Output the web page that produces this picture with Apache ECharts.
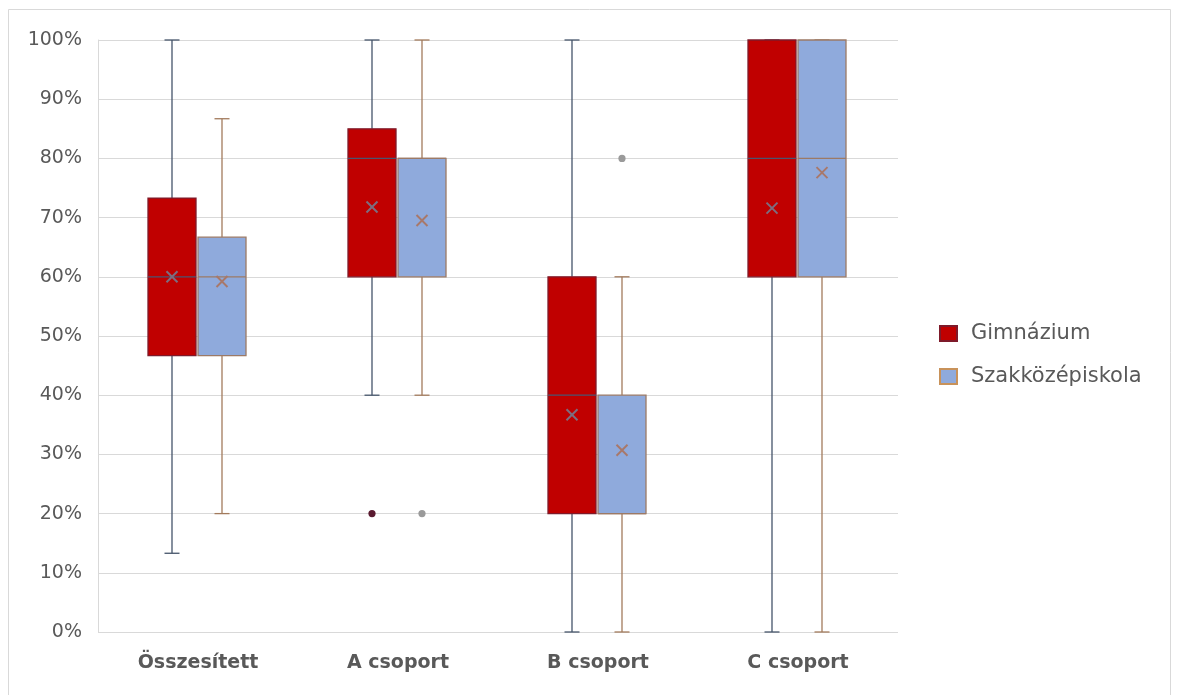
<!DOCTYPE html>
<html>
<head>
<meta charset="utf-8">
<script src="https://cdn.jsdelivr.net/npm/echarts@6/dist/echarts.min.js"></script>
<style>html,body{margin:0;padding:0;background:#fff}#c{width:1177px;height:695px}</style>
</head>
<body>
<div id="c"></div>
<script>
const categories = ['Összesített', 'A csoport', 'B csoport', 'C csoport'];
const seriesNames = ['Gimnázium', 'Szakközépiskola'];
// values in fractions (0..1)
const gimMin    = [0.133, 0.40, 0.00, 0.00];
const gimQ1     = [0.467, 0.60, 0.20, 0.60];
const gimMedian = [0.600, 0.80, 0.40, 0.80];
const gimQ3     = [0.733, 0.85, 0.60, 1.00];
const gimMax    = [1.000, 1.00, 1.00, 1.00];
const gimMean   = [0.600, 0.718, 0.367, 0.716];
const szakMin    = [0.200, 0.40, 0.00, 0.00];
const szakQ1     = [0.467, 0.60, 0.20, 0.60];
const szakMedian = [0.600, 0.80, 0.20, 0.80];
const szakQ3     = [0.667, 0.80, 0.40, 1.00];
const szakMax    = [0.867, 1.00, 0.60, 1.00];
const szakMean   = [0.592, 0.695, 0.307, 0.776];
// outliers: [categoryIndex, value]
const gimOutliers  = [[1, 0.20]];
const szakOutliers = [[1, 0.20], [2, 0.80]];
const yTicks = [0, 0.1, 0.2, 0.3, 0.4, 0.5, 0.6, 0.7, 0.8, 0.9, 1.0];

const FONT = "'DejaVu Sans', sans-serif";

function boxData(mins, q1, med, q3, maxs, means) {
  return categories.map((c, i) => [i, mins[i], q1[i], med[i], q3[i], maxs[i], means[i]]);
}

function makeBoxRender(offsetFrac, widthFrac, st) {
  return function (params, api) {
    const idx = api.value(0);
    const band = api.size([1, 0])[0];
    const cx = api.coord([idx, 0])[0] + band * offsetFrac;
    const w = band * widthFrac;
    const y = (k) => api.coord([idx, api.value(k)])[1];
    const yMin = y(1), yQ1 = y(2), yMed = y(3), yQ3 = y(4), yMax = y(5), yMean = y(6);
    const cap = 7.5, m = 5.5;
    const ls = { stroke: st.whisker, lineWidth: 1.3 };
    return {
      type: 'group',
      children: [
        { type: 'line', shape: { x1: cx, y1: yMax, x2: cx, y2: yQ3 }, style: ls },
        { type: 'line', shape: { x1: cx, y1: yQ1, x2: cx, y2: yMin }, style: ls },
        { type: 'line', shape: { x1: cx - cap, y1: yMax, x2: cx + cap, y2: yMax }, style: ls },
        { type: 'line', shape: { x1: cx - cap, y1: yMin, x2: cx + cap, y2: yMin }, style: ls },
        { type: 'rect', shape: { x: cx - w / 2, y: yQ3, width: w, height: yQ1 - yQ3 },
          style: { fill: st.fill, stroke: st.border, lineWidth: 1.3 } },
        { type: 'line', shape: { x1: cx - w / 2, y1: yMed, x2: cx + w / 2, y2: yMed },
          style: { stroke: st.median, lineWidth: 1.3 } },
        { type: 'line', shape: { x1: cx - m, y1: yMean - m, x2: cx + m, y2: yMean + m },
          style: { stroke: st.mean, lineWidth: 2 } },
        { type: 'line', shape: { x1: cx - m, y1: yMean + m, x2: cx + m, y2: yMean - m },
          style: { stroke: st.mean, lineWidth: 2 } }
      ]
    };
  };
}

function makeOutlierRender(offsetFrac, color) {
  return function (params, api) {
    const idx = api.value(0);
    const band = api.size([1, 0])[0];
    const p = api.coord([idx, api.value(1)]);
    return { type: 'circle', shape: { cx: p[0] + band * offsetFrac, cy: p[1], r: 3.6 },
      style: { fill: color } };
  };
}

const gimStyle = { fill: '#C00000', border: '#7E1A2A', whisker: '#44546A', median: '#4A5470', mean: '#7C6E80' };
const szakStyle = { fill: '#8FAADC', border: '#9C7A66', whisker: '#A27A5C', median: '#9C7A66', mean: '#A8786A' };
const offG = -0.13, offS = 0.12, bw = 0.24;

const chart = echarts.init(document.getElementById('c'), null, { renderer: 'canvas' });
chart.setOption({
  backgroundColor: '#fff',
  animation: false,
  graphic: [{
    type: 'rect', shape: { x: 8.5, y: 9.5, width: 1162, height: 690 },
    style: { fill: null, stroke: '#D9D9D9', lineWidth: 1 }, silent: true, z: -10
  }],
  grid: { left: 98, right: 279, top: 40, bottom: 63 },
  legend: {
    data: seriesNames,
    orient: 'vertical', left: 934, top: 318,
    itemWidth: 17, itemHeight: 15, itemGap: 22,
    icon: 'rect',
    textStyle: { fontFamily: FONT, fontSize: 21, color: '#595959', padding: [0, 0, 0, 9] }
  },
  xAxis: {
    type: 'category', data: categories, boundaryGap: true,
    axisLine: { show: false }, axisTick: { show: false },
    axisLabel: { fontFamily: FONT, fontSize: 19, fontWeight: 'bold', color: '#595959', margin: 22 }
  },
  yAxis: {
    type: 'value', min: 0, max: 1, interval: 0.1,
    axisLine: { show: true, lineStyle: { color: '#D9D9D9' } },
    axisTick: { show: false },
    splitLine: { lineStyle: { color: '#D9D9D9' } },
    axisLabel: { fontFamily: FONT, fontSize: 19, color: '#595959', margin: 16,
      formatter: (v) => Math.round(v * 100) + '%' }
  },
  series: [
    { name: seriesNames[0], type: 'custom', clip: false,
      itemStyle: { color: '#C00000', borderColor: '#7E1A2A', borderWidth: 1 },
      renderItem: makeBoxRender(offG, bw, gimStyle),
      encode: { x: 0, y: [1, 2, 3, 4, 5, 6] },
      data: boxData(gimMin, gimQ1, gimMedian, gimQ3, gimMax, gimMean), z: 2 },
    { name: seriesNames[1], type: 'custom', clip: false,
      itemStyle: { color: '#8FAADC', borderColor: '#C8925A', borderWidth: 1 },
      renderItem: makeBoxRender(offS, bw, szakStyle),
      encode: { x: 0, y: [1, 2, 3, 4, 5, 6] },
      data: boxData(szakMin, szakQ1, szakMedian, szakQ3, szakMax, szakMean), z: 2 },
    { name: 'Gimnázium kiugró', type: 'custom', clip: false,
      renderItem: makeOutlierRender(offG, '#5A1A30'),
      encode: { x: 0, y: 1 }, data: gimOutliers, z: 3 },
    { name: 'Szakközépiskola kiugró', type: 'custom', clip: false,
      renderItem: makeOutlierRender(offS, '#9A9A9A'),
      encode: { x: 0, y: 1 }, data: szakOutliers, z: 3 }
  ]
});
</script>
</body>
</html>
